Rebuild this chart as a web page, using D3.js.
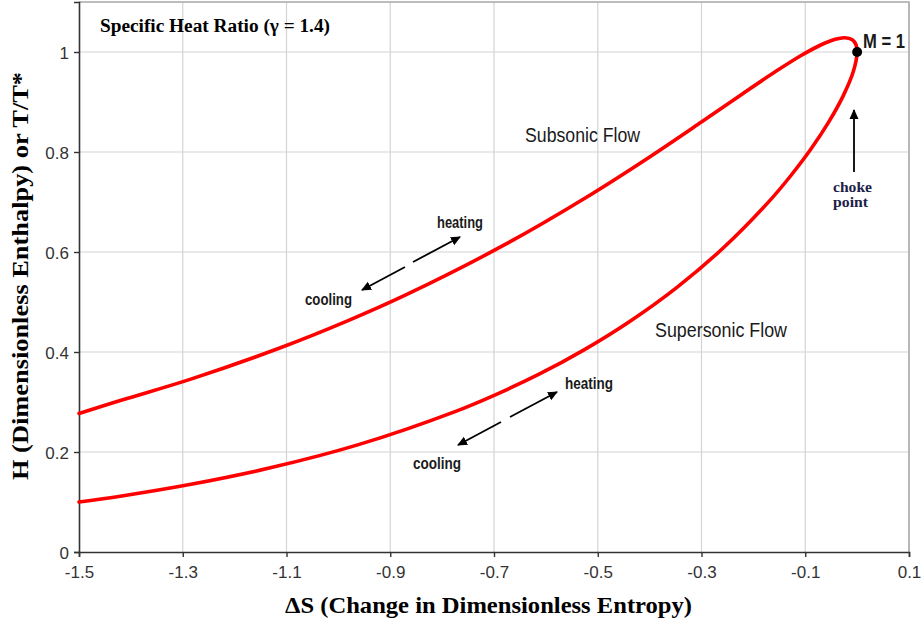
<!DOCTYPE html>
<html>
<head>
<meta charset="utf-8">
<script src="https://cdn.jsdelivr.net/npm/d3@7/dist/d3.min.js"></script>
<style>
  body { margin: 0; background: #fff; }
  svg { display: block; }
</style>
</head>
<body>
<svg id="chart" width="921" height="628"></svg>
<script>
// ---- Data ----
const subsonicS = [-1.5, -1.4156, -1.2844, -1.1105, -0.9835, -0.8701, -0.6784, -0.5241, -0.3999, -0.3002, -0.2206, -0.1573, -0.1080, -0.0702, -0.0422, -0.0240, -0.0093, -0.0022, 0];
const subsonicH = [0.277, 0.3044, 0.3457, 0.4089, 0.4617, 0.5141, 0.6151, 0.7080, 0.7901, 0.8599, 0.9167, 0.9608, 0.9929, 1.0140, 1.0255, 1.0286, 1.0245, 1.0146, 1.0];
const supersonicS = [0, -0.0075, -0.0271, -0.0552, -0.0894, -0.1280, -0.1693, -0.2572, -0.3479, -0.4384, -0.5272, -0.6131, -0.6964, -0.7764, -0.9628, -1.1313, -1.2840, -1.4235, -1.5];
const supersonicH = [1.0, 0.9603, 0.9118, 0.8592, 0.8054, 0.7525, 0.7017, 0.6089, 0.5289, 0.4611, 0.4038, 0.3556, 0.3149, 0.2803, 0.2142, 0.1683, 0.1354, 0.1111, 0.1001];
const chokePoint = { s: 0, h: 1 };
const xTicks = [-1.5, -1.3, -1.1, -0.9, -0.7, -0.5, -0.3, -0.1, 0.1];
const yTicks = [0, 0.2, 0.4, 0.6, 0.8, 1];
const xDomain = [-1.5, 0.1];
const yDomain = [0, 1.1];

// ---- Layout ----
const W = 921, H = 628;
const m = { left: 79, right: 12, top: 2, bottom: 76 };
const svg = d3.select("#chart");
const x = d3.scaleLinear().domain(xDomain).range([m.left, W - m.right]);
const y = d3.scaleLinear().domain(yDomain).range([H - m.bottom, m.top]);

const narrow = "'Liberation Sans Narrow','Arial Narrow','Liberation Sans',Arial,sans-serif";
const serif = "'Liberation Serif','Times New Roman',serif";

// Gridlines
svg.append("g").selectAll("line").data(xTicks.slice(1)).join("line")
  .attr("x1", d => x(d)).attr("x2", d => x(d))
  .attr("y1", y(yDomain[0])).attr("y2", y(yDomain[1]))
  .attr("stroke", "#d4d4d4").attr("stroke-width", 1.2);
svg.append("g").selectAll("line").data(yTicks.slice(1)).join("line")
  .attr("x1", x(xDomain[0])).attr("x2", x(xDomain[1]))
  .attr("y1", d => y(d)).attr("y2", d => y(d))
  .attr("stroke", "#d4d4d4").attr("stroke-width", 1.2);

// Top / right border
svg.append("path")
  .attr("d", `M${x(xDomain[0])},${y(yDomain[1])}H${x(xDomain[1])}V${y(yDomain[0])}`)
  .attr("fill", "none").attr("stroke", "#a8a8a8").attr("stroke-width", 1.5);

// Axes
const xAxis = svg.append("g").attr("transform", `translate(0,${y(0)})`)
  .call(d3.axisBottom(x).tickValues(xTicks).tickFormat(d => String(d)).tickSize(5).tickPadding(9));
const yAxis = svg.append("g").attr("transform", `translate(${x(xDomain[0])},0)`)
  .call(d3.axisLeft(y).tickValues(yTicks).tickFormat(d => String(d)).tickSize(5).tickPadding(5));
[xAxis, yAxis].forEach(g => {
  g.select(".domain").attr("stroke", "#333").attr("stroke-width", 1.6);
  g.selectAll(".tick line").attr("stroke", "#333").attr("stroke-width", 1.4);
  g.selectAll(".tick text").attr("fill", "#333")
    .style("font-family", narrow).style("font-size", "17px");
});
yAxis.selectAll(".tick text").attr("dy", "0.36em");

// Curve
const pts = subsonicS.map((s, i) => [s, subsonicH[i]])
  .concat(supersonicS.slice(1).map((s, i) => [s, supersonicH[i + 1]]));
svg.append("path").datum(pts)
  .attr("d", d3.line().x(d => x(d[0])).y(d => y(d[1])).curve(d3.curveCatmullRom.alpha(0.5)))
  .attr("fill", "none").attr("stroke", "#ff0000").attr("stroke-width", 3.6)
  .attr("stroke-linejoin", "round").attr("stroke-linecap", "round");

// Choke point dot
svg.append("circle").attr("cx", x(chokePoint.s)).attr("cy", y(chokePoint.h)).attr("r", 5).attr("fill", "#000");

// Arrow markers
const defs = svg.append("defs");
defs.append("marker").attr("id", "ah").attr("viewBox", "0 0 10 10")
  .attr("refX", 9).attr("refY", 5).attr("markerWidth", 10).attr("markerHeight", 10)
  .attr("markerUnits", "userSpaceOnUse").attr("orient", "auto")
  .append("path").attr("d", "M0,0.5 L10,5 L0,9.5 Z").attr("fill", "#000");

function arrow(x1, y1, x2, y2) {
  svg.append("line").attr("x1", x1).attr("y1", y1).attr("x2", x2).attr("y2", y2)
    .attr("stroke", "#000").attr("stroke-width", 1.8).attr("marker-end", "url(#ah)");
}
// upper pair
arrow(405, 267, 362, 290);
arrow(413, 262, 460, 237);
// lower pair
arrow(501, 422, 458, 445);
arrow(510, 417, 557, 392);
// choke arrow
arrow(854, 172, 854, 110);

// Texts
function txt(t, xx, yy, opts) {
  const e = svg.append("text").attr("x", xx).attr("y", yy).text(t)
    .style("font-family", opts.family || narrow)
    .style("font-size", opts.size + "px")
    .style("font-weight", opts.weight || "normal")
    .attr("fill", opts.fill || "#1a1a1a");
  if (opts.len) e.attr("textLength", opts.len).attr("lengthAdjust", "spacingAndGlyphs");
  if (opts.anchor) e.attr("text-anchor", opts.anchor);
  return e;
}
txt("Specific Heat Ratio (γ = 1.4)", 100, 32, { family: serif, size: 18.5, weight: "bold", fill: "#000", len: 230 });
txt("Subsonic Flow", 525, 142, { size: 21, len: 115 });
txt("Supersonic Flow", 655, 337, { size: 21, len: 132 });
txt("M = 1", 863, 48, { size: 20, weight: "bold", len: 42 });
txt("heating", 437, 228, { size: 16, weight: "bold", len: 46 });
txt("cooling", 305, 305, { size: 16, weight: "bold", len: 47 });
txt("heating", 565, 389, { size: 16, weight: "bold", len: 48 });
txt("cooling", 413, 469, { size: 16, weight: "bold", len: 48 });
txt("choke", 833, 192, { family: serif, size: 14, weight: "bold", fill: "#1c2148", len: 39 });
txt("point", 833, 207, { family: serif, size: 14, weight: "bold", fill: "#1c2148", len: 35 });

// Axis titles
txt("ΔS (Change in Dimensionless Entropy)", 285, 613, { family: serif, size: 22.5, weight: "bold", fill: "#000", len: 407 });
svg.append("text")
  .attr("transform", "translate(28,276) rotate(-90)")
  .attr("text-anchor", "middle")
  .attr("textLength", 408).attr("lengthAdjust", "spacingAndGlyphs")
  .style("font-family", serif).style("font-size", "22.5px").style("font-weight", "bold")
  .attr("fill", "#000")
  .text("H (Dimensionless Enthalpy) or T/T*");
</script>
</body>
</html>
